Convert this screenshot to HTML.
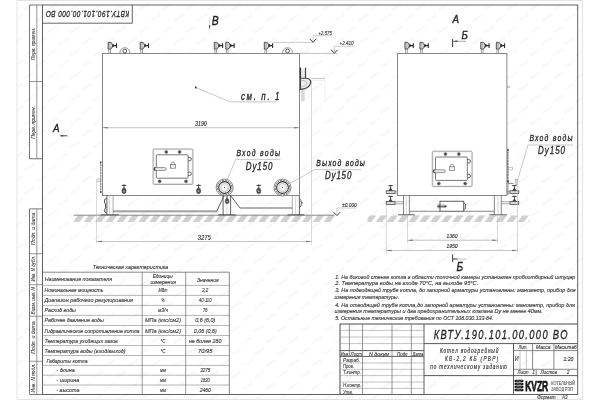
<!DOCTYPE html>
<html lang="ru"><head><meta charset="utf-8"><title>КВТУ.190.101.00.000 ВО</title>
<style>html,body{margin:0;padding:0;background:#fff;}body{width:600px;height:400px;overflow:hidden;font-family:"Liberation Sans",sans-serif;}svg{display:block;}</style></head>
<body>
<svg width="600" height="400" viewBox="0 0 600 400" font-family="'Liberation Sans', sans-serif">
<defs>
<pattern id="wm" width="23" height="23" patternUnits="userSpaceOnUse"><g stroke="#f8f8f8" stroke-width="2.6" stroke-dasharray="2.4 0.5"><line x1="1.5" y1="9.5" x2="11.5" y2="3"/><line x1="13" y1="21" x2="23" y2="14.5"/></g></pattern>
<pattern id="hatch" width="6.5" height="6" patternUnits="userSpaceOnUse"><path d="M-1.5 6 L2.7 0 L5.7 0 L1.5 6 Z M5 6 L9.2 0 L12.2 0 L8 6 Z" fill="#bcbcbc"/></pattern>
<filter id="soft" x="0" y="0" width="100%" height="100%" filterUnits="userSpaceOnUse"><feGaussianBlur stdDeviation="0.32"/></filter>
</defs>
<rect x="0" y="0" width="600" height="400" fill="#ffffff"/>
<g filter="url(#soft)">
<rect x="0" y="0" width="600" height="400" fill="#ffffff"/>
<rect x="17" y="0" width="566" height="400" fill="url(#wm)"/>
<rect x="17" y="0.5" width="565.5" height="399.0" rx="0" fill="none" stroke="#dcdcdc" stroke-width="0.8"/>
<rect x="42.5" y="5" width="535.2" height="389.5" rx="0" fill="none" stroke="#505050" stroke-width="0.9"/>
<path d="M42.5 5 H29.5 V158.75 H42.5" fill="none" stroke="#555" stroke-width="0.8" />
<line x1="36.8" y1="5" x2="36.8" y2="158.75" stroke="#6a6a6a" stroke-width="0.7" />
<line x1="29.5" y1="81.5" x2="42.5" y2="81.5" stroke="#6a6a6a" stroke-width="0.7" />
<path d="M42.5 208.9 H29.5 V394.5 H42.5" fill="none" stroke="#555" stroke-width="0.8" />
<line x1="36.8" y1="208.9" x2="36.8" y2="394.5" stroke="#6a6a6a" stroke-width="0.7" />
<line x1="29.5" y1="253.75" x2="42.5" y2="253.75" stroke="#6a6a6a" stroke-width="0.7" />
<line x1="29.5" y1="284.7" x2="42.5" y2="284.7" stroke="#6a6a6a" stroke-width="0.7" />
<line x1="29.5" y1="316.25" x2="42.5" y2="316.25" stroke="#6a6a6a" stroke-width="0.7" />
<line x1="29.5" y1="361.25" x2="42.5" y2="361.25" stroke="#6a6a6a" stroke-width="0.7" />
<text transform="translate(35.0 44) rotate(-90)" font-size="5.4" font-style="italic" text-anchor="middle" fill="#444" stroke="#444" stroke-width="0.08" textLength="32.5" lengthAdjust="spacingAndGlyphs">Перв. примен.</text>
<text transform="translate(35.0 122.5) rotate(-90)" font-size="5.4" font-style="italic" text-anchor="middle" fill="#444" stroke="#444" stroke-width="0.08" textLength="32.5" lengthAdjust="spacingAndGlyphs">Перв. примен.</text>
<text transform="translate(35.0 228.75) rotate(-90)" font-size="5.4" font-style="italic" text-anchor="middle" fill="#444" stroke="#444" stroke-width="0.08" textLength="32.5" lengthAdjust="spacingAndGlyphs">Подп. и дата</text>
<text transform="translate(35.0 268.75) rotate(-90)" font-size="5.4" font-style="italic" text-anchor="middle" fill="#444" stroke="#444" stroke-width="0.08" textLength="25.5" lengthAdjust="spacingAndGlyphs">Инв. N дубл.</text>
<text transform="translate(35.0 300.75) rotate(-90)" font-size="5.4" font-style="italic" text-anchor="middle" fill="#444" stroke="#444" stroke-width="0.08" textLength="27.5" lengthAdjust="spacingAndGlyphs">Взам. инв. N</text>
<text transform="translate(35.0 337.5) rotate(-90)" font-size="5.4" font-style="italic" text-anchor="middle" fill="#444" stroke="#444" stroke-width="0.08" textLength="32.5" lengthAdjust="spacingAndGlyphs">Подп. и дата</text>
<text transform="translate(35.0 378) rotate(-90)" font-size="5.4" font-style="italic" text-anchor="middle" fill="#444" stroke="#444" stroke-width="0.08" textLength="28.75" lengthAdjust="spacingAndGlyphs">Инв. N подл.</text>
<path d="M132.3 5 V23.2 H42.5" fill="none" stroke="#555" stroke-width="0.9" />
<text transform="translate(129.3 10.8) rotate(180) scale(0.68 1)" font-size="9.6" font-style="italic" font-weight="normal" text-anchor="start" fill="#2a2a2a" textLength="122.79" lengthAdjust="spacing"  stroke="#2a2a2a" stroke-width="0.32">КВТУ.190.101.00.000 ВО</text>
<clipPath id="gc1"><rect x="73.75" y="215.3" width="260.65" height="6.8"/></clipPath>
<g clip-path="url(#gc1)" fill="#d0d0d0">
<path d="M51.1 222 L57.7 222 L62.7 215.3 L56.1 215.3 Z"/>
<path d="M62.0 222 L68.6 222 L73.6 215.3 L67.0 215.3 Z"/>
<path d="M72.9 222 L79.5 222 L84.5 215.3 L77.9 215.3 Z"/>
<path d="M83.8 222 L90.4 222 L95.4 215.3 L88.8 215.3 Z"/>
<path d="M94.7 222 L101.3 222 L106.3 215.3 L99.7 215.3 Z"/>
<path d="M105.6 222 L112.2 222 L117.2 215.3 L110.6 215.3 Z"/>
<path d="M116.5 222 L123.1 222 L128.1 215.3 L121.5 215.3 Z"/>
<path d="M127.4 222 L134.0 222 L139.0 215.3 L132.4 215.3 Z"/>
<path d="M138.3 222 L144.9 222 L149.9 215.3 L143.3 215.3 Z"/>
<path d="M149.2 222 L155.8 222 L160.8 215.3 L154.2 215.3 Z"/>
<path d="M160.1 222 L166.7 222 L171.7 215.3 L165.1 215.3 Z"/>
<path d="M171.0 222 L177.6 222 L182.6 215.3 L176.0 215.3 Z"/>
<path d="M181.9 222 L188.5 222 L193.5 215.3 L186.9 215.3 Z"/>
<path d="M192.8 222 L199.4 222 L204.4 215.3 L197.8 215.3 Z"/>
<path d="M203.7 222 L210.3 222 L215.3 215.3 L208.7 215.3 Z"/>
<path d="M214.6 222 L221.2 222 L226.2 215.3 L219.6 215.3 Z"/>
<path d="M225.5 222 L232.1 222 L237.1 215.3 L230.5 215.3 Z"/>
<path d="M236.4 222 L243.0 222 L248.0 215.3 L241.4 215.3 Z"/>
<path d="M247.3 222 L253.9 222 L258.9 215.3 L252.3 215.3 Z"/>
<path d="M258.2 222 L264.8 222 L269.8 215.3 L263.2 215.3 Z"/>
<path d="M269.1 222 L275.7 222 L280.7 215.3 L274.1 215.3 Z"/>
<path d="M280.0 222 L286.6 222 L291.6 215.3 L285.0 215.3 Z"/>
<path d="M290.9 222 L297.5 222 L302.5 215.3 L295.9 215.3 Z"/>
<path d="M301.8 222 L308.4 222 L313.4 215.3 L306.8 215.3 Z"/>
<path d="M312.7 222 L319.3 222 L324.3 215.3 L317.7 215.3 Z"/>
<path d="M323.6 222 L330.2 222 L335.2 215.3 L328.6 215.3 Z"/>
<path d="M334.5 222 L341.1 222 L346.1 215.3 L339.5 215.3 Z"/>
</g>
<line x1="73.75" y1="215.2" x2="334.4" y2="215.2" stroke="#6a6a6a" stroke-width="0.8" />
<rect x="102.5" y="53.4" width="196.9" height="142.1" rx="0" fill="#ffffff" stroke="#6a6a6a" stroke-width="0.8"/>
<line x1="108.8" y1="49.0" x2="108.8" y2="53.4" stroke="#7a7a7a" stroke-width="0.7" />
<line x1="110.5" y1="49.0" x2="110.5" y2="53.4" stroke="#7a7a7a" stroke-width="0.7" />
<path d="M108.2 42.3 H110.2 Q112.5 42.6 112.5 45.6 Q112.5 48.7 110.2 49 H108.2 Z" fill="#ececec" stroke="#2e2e2e" stroke-width="0.85" />
<line x1="109.3" y1="43.0" x2="109.3" y2="48.4" stroke="#8a8a8a" stroke-width="0.5" />
<line x1="110.3" y1="43.0" x2="110.3" y2="48.4" stroke="#8a8a8a" stroke-width="0.5" />
<line x1="112.5" y1="45.6" x2="116.5" y2="45.6" stroke="#2e2e2e" stroke-width="1.3" />
<path d="M112.60000000000001 43.7 L115.2 45.6 L112.60000000000001 47.5 Z" fill="#2e2e2e" stroke="none" stroke-width="0" />
<line x1="116.5" y1="43.2" x2="116.5" y2="48.1" stroke="#2e2e2e" stroke-width="1.1" />
<line x1="140.79999999999998" y1="49.0" x2="140.79999999999998" y2="53.4" stroke="#7a7a7a" stroke-width="0.7" />
<line x1="142.5" y1="49.0" x2="142.5" y2="53.4" stroke="#7a7a7a" stroke-width="0.7" />
<path d="M140.2 42.3 H142.2 Q144.5 42.6 144.5 45.6 Q144.5 48.7 142.2 49 H140.2 Z" fill="#ececec" stroke="#2e2e2e" stroke-width="0.85" />
<line x1="141.29999999999998" y1="43.0" x2="141.29999999999998" y2="48.4" stroke="#8a8a8a" stroke-width="0.5" />
<line x1="142.29999999999998" y1="43.0" x2="142.29999999999998" y2="48.4" stroke="#8a8a8a" stroke-width="0.5" />
<line x1="144.5" y1="45.6" x2="148.5" y2="45.6" stroke="#2e2e2e" stroke-width="1.3" />
<path d="M144.6 43.7 L147.2 45.6 L144.6 47.5 Z" fill="#2e2e2e" stroke="none" stroke-width="0" />
<line x1="148.5" y1="43.2" x2="148.5" y2="48.1" stroke="#2e2e2e" stroke-width="1.1" />
<line x1="214.9" y1="49.0" x2="214.9" y2="53.4" stroke="#7a7a7a" stroke-width="0.7" />
<line x1="216.60000000000002" y1="49.0" x2="216.60000000000002" y2="53.4" stroke="#7a7a7a" stroke-width="0.7" />
<path d="M214.3 42.3 H216.3 Q218.60000000000002 42.6 218.60000000000002 45.6 Q218.60000000000002 48.7 216.3 49 H214.3 Z" fill="#ececec" stroke="#2e2e2e" stroke-width="0.85" />
<line x1="215.4" y1="43.0" x2="215.4" y2="48.4" stroke="#8a8a8a" stroke-width="0.5" />
<line x1="216.4" y1="43.0" x2="216.4" y2="48.4" stroke="#8a8a8a" stroke-width="0.5" />
<line x1="218.60000000000002" y1="45.6" x2="222.60000000000002" y2="45.6" stroke="#2e2e2e" stroke-width="1.3" />
<path d="M218.70000000000002 43.7 L221.3 45.6 L218.70000000000002 47.5 Z" fill="#2e2e2e" stroke="none" stroke-width="0" />
<line x1="222.60000000000002" y1="43.2" x2="222.60000000000002" y2="48.1" stroke="#2e2e2e" stroke-width="1.1" />
<line x1="226.4" y1="49.0" x2="226.4" y2="53.4" stroke="#7a7a7a" stroke-width="0.7" />
<line x1="228.10000000000002" y1="49.0" x2="228.10000000000002" y2="53.4" stroke="#7a7a7a" stroke-width="0.7" />
<path d="M225.8 42.3 H227.8 Q230.10000000000002 42.6 230.10000000000002 45.6 Q230.10000000000002 48.7 227.8 49 H225.8 Z" fill="#ececec" stroke="#2e2e2e" stroke-width="0.85" />
<line x1="226.9" y1="43.0" x2="226.9" y2="48.4" stroke="#8a8a8a" stroke-width="0.5" />
<line x1="227.9" y1="43.0" x2="227.9" y2="48.4" stroke="#8a8a8a" stroke-width="0.5" />
<line x1="230.10000000000002" y1="45.6" x2="234.10000000000002" y2="45.6" stroke="#2e2e2e" stroke-width="1.3" />
<path d="M230.20000000000002 43.7 L232.8 45.6 L230.20000000000002 47.5 Z" fill="#2e2e2e" stroke="none" stroke-width="0" />
<line x1="234.10000000000002" y1="43.2" x2="234.10000000000002" y2="48.1" stroke="#2e2e2e" stroke-width="1.1" />
<line x1="264.90000000000003" y1="49.0" x2="264.90000000000003" y2="53.4" stroke="#7a7a7a" stroke-width="0.7" />
<line x1="266.6" y1="49.0" x2="266.6" y2="53.4" stroke="#7a7a7a" stroke-width="0.7" />
<path d="M264.3 42.3 H266.3 Q268.6 42.6 268.6 45.6 Q268.6 48.7 266.3 49 H264.3 Z" fill="#ececec" stroke="#2e2e2e" stroke-width="0.85" />
<line x1="265.40000000000003" y1="43.0" x2="265.40000000000003" y2="48.4" stroke="#8a8a8a" stroke-width="0.5" />
<line x1="266.40000000000003" y1="43.0" x2="266.40000000000003" y2="48.4" stroke="#8a8a8a" stroke-width="0.5" />
<line x1="268.6" y1="45.6" x2="272.6" y2="45.6" stroke="#2e2e2e" stroke-width="1.3" />
<path d="M268.7 43.7 L271.3 45.6 L268.7 47.5 Z" fill="#2e2e2e" stroke="none" stroke-width="0" />
<line x1="272.6" y1="43.2" x2="272.6" y2="48.1" stroke="#2e2e2e" stroke-width="1.1" />
<path d="M119.89999999999999 53.4 V52.6 A4.9 4.9 0 0 1 129.7 52.6 V53.4" fill="none" stroke="#6a6a6a" stroke-width="0.7" />
<circle cx="124.8" cy="51.0" r="1.9" fill="none" stroke="#3a3a3a" stroke-width="0.8" />
<path d="M282.70000000000005 53.4 V52.6 A4.9 4.9 0 0 1 292.5 52.6 V53.4" fill="none" stroke="#6a6a6a" stroke-width="0.7" />
<circle cx="287.6" cy="51.0" r="1.9" fill="none" stroke="#3a3a3a" stroke-width="0.8" />
<line x1="273" y1="42.4" x2="313" y2="42.4" stroke="#aaaaaa" stroke-width="0.6" />
<line x1="299.4" y1="53.4" x2="337.5" y2="53.4" stroke="#9a9a9a" stroke-width="0.6" />
<path d="M309.7 38.800000000000004 L313 42.2 L316.3 38.800000000000004" fill="none" stroke="#2e2e2e" stroke-width="0.95" />
<path d="M313 42.2 V35.7 H332.5" fill="none" stroke="#a8a8a8" stroke-width="0.55" />
<text x="318.2" y="34.5" font-size="4.6" font-style="italic" font-weight="normal" text-anchor="start" fill="#3e3e3e" textLength="13.8" lengthAdjust="spacingAndGlyphs"  stroke="#3e3e3e" stroke-width="0.14">+2.575</text>
<path d="M331.09999999999997 49.800000000000004 L334.4 53.2 L337.7 49.800000000000004" fill="none" stroke="#2e2e2e" stroke-width="0.95" />
<path d="M334.4 53.2 V46.3 H354.5" fill="none" stroke="#a8a8a8" stroke-width="0.55" />
<text x="339.5" y="45.1" font-size="4.6" font-style="italic" font-weight="normal" text-anchor="start" fill="#3e3e3e" textLength="14" lengthAdjust="spacingAndGlyphs"  stroke="#3e3e3e" stroke-width="0.14">+2.410</text>
<path d="M333.59999999999997 212.2 L336.9 215.6 L340.2 212.2" fill="none" stroke="#2e2e2e" stroke-width="0.95" />
<path d="M336.9 215.6 V208.0 H356.5" fill="none" stroke="#a8a8a8" stroke-width="0.55" />
<text x="342.0" y="207.0" font-size="4.6" font-style="italic" font-weight="normal" text-anchor="start" fill="#3e3e3e" textLength="14.8" lengthAdjust="spacingAndGlyphs"  stroke="#3e3e3e" stroke-width="0.14">±0.000</text>
<line x1="209.6" y1="16.8" x2="209.6" y2="29" stroke="#c4c4c4" stroke-width="0.6" />
<path d="M209.6 30 L208.8 25.2 L210.4 25.2 Z" fill="#444" stroke="none" stroke-width="0" />
<text transform="translate(211.8 25.1) scale(0.85 1)" font-size="12.2" font-style="italic" font-weight="normal" text-anchor="start" fill="#222"  stroke="#222" stroke-width="0.35">В</text>
<text transform="translate(53.0 132.4) scale(0.85 1)" font-size="11.5" font-style="italic" font-weight="normal" text-anchor="start" fill="#222"  stroke="#222" stroke-width="0.35">А</text>
<line x1="60.5" y1="135.8" x2="67.5" y2="135.8" stroke="#3a3a3a" stroke-width="0.9" />
<path d="M59.8 135.8 L62.8 134.9 L62.8 136.70000000000002 Z" fill="#3a3a3a" stroke="none"/>
<circle cx="195.9" cy="87.6" r="1.0" fill="#2a2a2a" stroke="none" stroke-width="0" />
<path d="M195.9 87.6 L230.2 101.9 H276.3" fill="none" stroke="#a0a0a0" stroke-width="0.6" />
<text transform="translate(241.0 100.0) scale(0.78 1)" font-size="10.2" font-style="italic" font-weight="normal" text-anchor="start" fill="#262626" textLength="49.36" lengthAdjust="spacing"  stroke="#262626" stroke-width="0.3">см. п. 1</text>
<line x1="102.5" y1="127.7" x2="299.4" y2="127.7" stroke="#9a9a9a" stroke-width="0.6" />
<path d="M102.7 127.7 L107.7 126.95 L107.7 128.45 Z" fill="#6a6a6a" stroke="none"/>
<path d="M299.2 127.7 L294.2 126.95 L294.2 128.45 Z" fill="#6a6a6a" stroke="none"/>
<text x="195.0" y="125.7" font-size="6.4" font-style="italic" font-weight="normal" text-anchor="start" fill="#2a2a2a" textLength="11.8" lengthAdjust="spacingAndGlyphs"  stroke="#2a2a2a" stroke-width="0.14">3190</text>
<rect x="153.1" y="149.0" width="39.8" height="35.4" rx="1.2" fill="none" stroke="#868686" stroke-width="0.8"/>
<rect x="153.8" y="149.7" width="38.4" height="34.0" rx="0.8" fill="none" stroke="#bdbdbd" stroke-width="0.4"/>
<rect x="156.3" y="154.8" width="31.8" height="23.4" rx="0.8" fill="none" stroke="#6a6a6a" stroke-width="0.9"/>
<circle cx="166.25" cy="151.9" r="1.5" fill="#444" stroke="#777" stroke-width="0.6" />
<circle cx="179.6" cy="151.9" r="1.5" fill="#444" stroke="#777" stroke-width="0.6" />
<circle cx="159.6" cy="181.3" r="1.5" fill="#444" stroke="#777" stroke-width="0.6" />
<circle cx="186.0" cy="181.3" r="1.5" fill="#444" stroke="#777" stroke-width="0.6" />
<path d="M188.1 157.4 H189.6 A1.7 1.7 0 0 1 189.6 160.8 H188.1" fill="none" stroke="#3a3a3a" stroke-width="0.8" />
<path d="M188.1 172.05 H189.6 A1.7 1.7 0 0 1 189.6 175.45 H188.1" fill="none" stroke="#3a3a3a" stroke-width="0.8" />
<rect x="170.4" y="164.6" width="5.0" height="3.6" rx="0" fill="#f4f4f4" stroke="#6a6a6a" stroke-width="0.7"/>
<path d="M171.3 164.6 V163.6 A1.6 1.6 0 0 1 174.5 163.6 V164.6" fill="none" stroke="#6a6a6a" stroke-width="0.7" />
<rect x="154.2" y="167.6" width="12.0" height="2.8" rx="1.4" fill="#ededed" stroke="#6a6a6a" stroke-width="0.7"/>
<path d="M155.6 167.6 A1.4 1.4 0 0 0 155.6 170.4" fill="none" stroke="#3a3a3a" stroke-width="1.1" />
<line x1="100.8" y1="161.2" x2="100.8" y2="193.2" stroke="#5a5a5a" stroke-width="0.9" stroke-dasharray="2.2 0.5"/>
<circle cx="100.7" cy="162.5" r="0.8" fill="#333" stroke="none" stroke-width="0" />
<circle cx="100.7" cy="192.0" r="0.8" fill="#333" stroke="none" stroke-width="0" />
<rect x="96.9" y="179.0" width="3.7" height="2.25" rx="0" fill="none" stroke="#9a9a9a" stroke-width="0.6"/>
<circle cx="224.6" cy="187.5" r="8.5" fill="#ffffff" stroke="#555" stroke-width="0.7" />
<circle cx="224.6" cy="187.5" r="7.25" fill="none" stroke="#707070" stroke-width="1.0" stroke-dasharray="2.0 0.85"/>
<circle cx="224.6" cy="187.5" r="5.9" fill="none" stroke="#333" stroke-width="1.1" />
<circle cx="224.6" cy="187.5" r="4.0" fill="none" stroke="#aaaaaa" stroke-width="0.7" />
<circle cx="224.6" cy="187.5" r="2.9" fill="none" stroke="#d0d0d0" stroke-width="0.5" />
<circle cx="224.6" cy="187.5" r="0.5" fill="#3a3a3a" stroke="none" stroke-width="0" />
<circle cx="282.5" cy="187.5" r="8.5" fill="#ffffff" stroke="#555" stroke-width="0.7" />
<circle cx="282.5" cy="187.5" r="7.25" fill="none" stroke="#707070" stroke-width="1.0" stroke-dasharray="2.0 0.85"/>
<circle cx="282.5" cy="187.5" r="5.9" fill="none" stroke="#333" stroke-width="1.1" />
<circle cx="282.5" cy="187.5" r="4.0" fill="none" stroke="#aaaaaa" stroke-width="0.7" />
<circle cx="282.5" cy="187.5" r="2.9" fill="none" stroke="#d0d0d0" stroke-width="0.5" />
<circle cx="282.5" cy="187.5" r="0.5" fill="#3a3a3a" stroke="none" stroke-width="0" />
<line x1="121.8" y1="185.4" x2="126.2" y2="185.4" stroke="#3a3a3a" stroke-width="1.0" />
<line x1="124.0" y1="184.4" x2="124.0" y2="188.4" stroke="#3a3a3a" stroke-width="0.9" />
<ellipse cx="124.0" cy="190.8" rx="2.1" ry="2.9" fill="#555" stroke="#333" stroke-width="0.5"/>
<circle cx="124.0" cy="191.20000000000002" r="0.8" fill="#bbb" stroke="none" stroke-width="0" />
<line x1="196.4" y1="185.4" x2="200.79999999999998" y2="185.4" stroke="#3a3a3a" stroke-width="1.0" />
<line x1="198.6" y1="184.4" x2="198.6" y2="188.4" stroke="#3a3a3a" stroke-width="0.9" />
<ellipse cx="198.6" cy="190.8" rx="2.1" ry="2.9" fill="#555" stroke="#333" stroke-width="0.5"/>
<circle cx="198.6" cy="191.20000000000002" r="0.8" fill="#bbb" stroke="none" stroke-width="0" />
<line x1="256.55" y1="185.4" x2="260.95" y2="185.4" stroke="#3a3a3a" stroke-width="1.0" />
<line x1="258.75" y1="184.4" x2="258.75" y2="188.4" stroke="#3a3a3a" stroke-width="0.9" />
<ellipse cx="258.75" cy="190.8" rx="2.1" ry="2.9" fill="#555" stroke="#333" stroke-width="0.5"/>
<circle cx="258.75" cy="191.20000000000002" r="0.8" fill="#bbb" stroke="none" stroke-width="0" />
<line x1="106.9" y1="195.5" x2="106.9" y2="215" stroke="#3a3a3a" stroke-width="0.8" />
<line x1="109.4" y1="195.5" x2="109.4" y2="215" stroke="#bdbdbd" stroke-width="0.6" />
<line x1="113.1" y1="195.5" x2="113.1" y2="215" stroke="#9a9a9a" stroke-width="0.8" />
<line x1="100.6" y1="214.8" x2="118.75" y2="214.8" stroke="#3a3a3a" stroke-width="0.8" />
<line x1="223.1" y1="195.5" x2="223.1" y2="215" stroke="#3a3a3a" stroke-width="0.8" />
<line x1="226.9" y1="195.5" x2="226.9" y2="215" stroke="#bdbdbd" stroke-width="0.6" />
<line x1="230.6" y1="195.5" x2="230.6" y2="215" stroke="#3a3a3a" stroke-width="0.8" />
<line x1="218.0" y1="214.8" x2="235.6" y2="214.8" stroke="#3a3a3a" stroke-width="0.8" />
<line x1="292.25" y1="195.5" x2="292.25" y2="215" stroke="#9a9a9a" stroke-width="0.8" />
<line x1="295.6" y1="195.5" x2="295.6" y2="215" stroke="#bdbdbd" stroke-width="0.6" />
<line x1="299.4" y1="195.5" x2="299.4" y2="215" stroke="#3a3a3a" stroke-width="0.8" />
<line x1="287.5" y1="214.8" x2="304.4" y2="214.8" stroke="#3a3a3a" stroke-width="0.8" />
<path d="M106.6 198.5 L104.6 199.5 V203 L105.6 204 V208 L104.8 209 V212 L106.6 213" fill="none" stroke="#3a3a3a" stroke-width="0.9" />
<path d="M299.6 198.8 L301 200.5 V202 L302.6 203 L301 204 V206 L299.6 207.5" fill="none" stroke="#3a3a3a" stroke-width="0.8" />
<path d="M113.1 211.1 H216.9 L224 195.6" fill="none" stroke="#3a3a3a" stroke-width="0.8" />
<line x1="113.1" y1="212.6" x2="216.5" y2="212.6" stroke="#bdbdbd" stroke-width="0.5" />
<path d="M230.6 195.6 L240 208 H292.25" fill="none" stroke="#3a3a3a" stroke-width="0.8" />
<line x1="227.1" y1="195.6" x2="227.1" y2="199" stroke="#3a3a3a" stroke-width="0.9" />
<ellipse cx="227.1" cy="201.2" rx="1.9" ry="2.6" fill="#555" stroke="#333" stroke-width="0.5"/>
<circle cx="227.1" cy="201.6" r="0.7" fill="#bbb" stroke="none" stroke-width="0" />
<line x1="96.6" y1="181.3" x2="96.6" y2="243.5" stroke="#bdbdbd" stroke-width="0.6" />
<line x1="311.5" y1="80" x2="311.5" y2="244.5" stroke="#bdbdbd" stroke-width="0.6" />
<line x1="96.6" y1="241.5" x2="311.5" y2="241.5" stroke="#9a9a9a" stroke-width="0.6" />
<path d="M96.8 241.5 L101.8 240.75 L101.8 242.25 Z" fill="#6a6a6a" stroke="none"/>
<path d="M311.3 241.5 L306.3 240.75 L306.3 242.25 Z" fill="#6a6a6a" stroke="none"/>
<text x="197.8" y="239.7" font-size="6.5" font-style="italic" font-weight="normal" text-anchor="start" fill="#2a2a2a" textLength="12.8" lengthAdjust="spacingAndGlyphs"  stroke="#2a2a2a" stroke-width="0.14">3275</text>
<rect x="301.2" y="88.5" width="3.2" height="12.5" rx="0" fill="#dadada" stroke="#d4d4d4" stroke-width="0.4"/>
<line x1="311.5" y1="78.4" x2="325" y2="78.4" stroke="#9a9a9a" stroke-width="0.6" />
<line x1="311.5" y1="80.2" x2="325" y2="80.2" stroke="#d8d8d8" stroke-width="0.5" />
<line x1="325" y1="78.4" x2="325" y2="98" stroke="#e2e2e2" stroke-width="0.5" />
<path d="M300.4 78.2 H306 Q310.9 78.6 310.7 82.6 Q309.6 88.6 300.4 89.4 Z" fill="#efefef" stroke="#3a3a3a" stroke-width="1.1" />
<path d="M300.6 80.6 H304.2 Q307.2 81 307.0 83.2 Q306.2 86.4 300.6 87.0" fill="none" stroke="#9a9a9a" stroke-width="0.6" />
<line x1="300.4" y1="67.6" x2="300.4" y2="78" stroke="#333" stroke-width="1.2" />
<line x1="305.6" y1="67.6" x2="305.6" y2="78" stroke="#333" stroke-width="1.0" />
<line x1="302.0" y1="68.6" x2="302.0" y2="77.5" stroke="#9a9a9a" stroke-width="0.5" />
<line x1="304.2" y1="68.6" x2="304.2" y2="77.5" stroke="#9a9a9a" stroke-width="0.5" />
<text transform="translate(236.5 155.6) scale(0.78 1)" font-size="8.8" font-style="italic" font-weight="normal" text-anchor="start" fill="#262626" textLength="55.77" lengthAdjust="spacing"  stroke="#262626" stroke-width="0.3">Вход  воды</text>
<path d="M280.6 159.4 H235.6 L227.6 178.8" fill="none" stroke="#a6a6a6" stroke-width="0.6" />
<text transform="translate(245.8 170.0) scale(0.78 1)" font-size="10.2" font-style="italic" font-weight="normal" text-anchor="start" fill="#262626" textLength="34.1" lengthAdjust="spacing"  stroke="#262626" stroke-width="0.3">Dy150</text>
<text transform="translate(316.3 165.6) scale(0.78 1)" font-size="8.8" font-style="italic" font-weight="normal" text-anchor="start" fill="#262626" textLength="62.31" lengthAdjust="spacing"  stroke="#262626" stroke-width="0.3">Выход  воды</text>
<path d="M361.25 169.6 H314.4 L290.4 183.4" fill="none" stroke="#a6a6a6" stroke-width="0.6" />
<text transform="translate(325.0 179.4) scale(0.78 1)" font-size="10.2" font-style="italic" font-weight="normal" text-anchor="start" fill="#262626" textLength="33.72" lengthAdjust="spacing"  stroke="#262626" stroke-width="0.3">Dy150</text>
<clipPath id="gc2"><rect x="367.5" y="215.3" width="162.5" height="6.8"/></clipPath>
<g clip-path="url(#gc2)" fill="#d0d0d0">
<path d="M343.0 222 L349.6 222 L354.6 215.3 L348.0 215.3 Z"/>
<path d="M353.9 222 L360.5 222 L365.5 215.3 L358.9 215.3 Z"/>
<path d="M364.8 222 L371.4 222 L376.4 215.3 L369.8 215.3 Z"/>
<path d="M375.7 222 L382.3 222 L387.3 215.3 L380.7 215.3 Z"/>
<path d="M386.6 222 L393.2 222 L398.2 215.3 L391.6 215.3 Z"/>
<path d="M397.5 222 L404.1 222 L409.1 215.3 L402.5 215.3 Z"/>
<path d="M408.4 222 L415.0 222 L420.0 215.3 L413.4 215.3 Z"/>
<path d="M419.3 222 L425.9 222 L430.9 215.3 L424.3 215.3 Z"/>
<path d="M430.2 222 L436.8 222 L441.8 215.3 L435.2 215.3 Z"/>
<path d="M441.1 222 L447.7 222 L452.7 215.3 L446.1 215.3 Z"/>
<path d="M452.0 222 L458.6 222 L463.6 215.3 L457.0 215.3 Z"/>
<path d="M462.9 222 L469.5 222 L474.5 215.3 L467.9 215.3 Z"/>
<path d="M473.8 222 L480.4 222 L485.4 215.3 L478.8 215.3 Z"/>
<path d="M484.7 222 L491.3 222 L496.3 215.3 L489.7 215.3 Z"/>
<path d="M495.6 222 L502.2 222 L507.2 215.3 L500.6 215.3 Z"/>
<path d="M506.5 222 L513.1 222 L518.1 215.3 L511.5 215.3 Z"/>
<path d="M517.4 222 L524.0 222 L529.0 215.3 L522.4 215.3 Z"/>
<path d="M528.3 222 L534.9 222 L539.9 215.3 L533.3 215.3 Z"/>
</g>
<rect x="397.5" y="53.4" width="109.4" height="142.0" rx="0" fill="#ffffff" stroke="#6a6a6a" stroke-width="0.8"/>
<line x1="405.6" y1="49.0" x2="405.6" y2="53.4" stroke="#7a7a7a" stroke-width="0.7" />
<line x1="407.3" y1="49.0" x2="407.3" y2="53.4" stroke="#7a7a7a" stroke-width="0.7" />
<path d="M405.0 42.3 H407.0 Q409.3 42.6 409.3 45.6 Q409.3 48.7 407.0 49 H405.0 Z" fill="#ececec" stroke="#2e2e2e" stroke-width="0.85" />
<line x1="406.1" y1="43.0" x2="406.1" y2="48.4" stroke="#8a8a8a" stroke-width="0.5" />
<line x1="407.1" y1="43.0" x2="407.1" y2="48.4" stroke="#8a8a8a" stroke-width="0.5" />
<line x1="409.3" y1="45.6" x2="413.3" y2="45.6" stroke="#2e2e2e" stroke-width="1.3" />
<path d="M409.4 43.7 L412.0 45.6 L409.4 47.5 Z" fill="#2e2e2e" stroke="none" stroke-width="0" />
<line x1="413.3" y1="43.2" x2="413.3" y2="48.1" stroke="#2e2e2e" stroke-width="1.1" />
<line x1="420.6" y1="49.0" x2="420.6" y2="53.4" stroke="#7a7a7a" stroke-width="0.7" />
<line x1="422.3" y1="49.0" x2="422.3" y2="53.4" stroke="#7a7a7a" stroke-width="0.7" />
<path d="M420.0 42.3 H422.0 Q424.3 42.6 424.3 45.6 Q424.3 48.7 422.0 49 H420.0 Z" fill="#ececec" stroke="#2e2e2e" stroke-width="0.85" />
<line x1="421.1" y1="43.0" x2="421.1" y2="48.4" stroke="#8a8a8a" stroke-width="0.5" />
<line x1="422.1" y1="43.0" x2="422.1" y2="48.4" stroke="#8a8a8a" stroke-width="0.5" />
<line x1="424.3" y1="45.6" x2="428.3" y2="45.6" stroke="#2e2e2e" stroke-width="1.3" />
<path d="M424.4 43.7 L427.0 45.6 L424.4 47.5 Z" fill="#2e2e2e" stroke="none" stroke-width="0" />
<line x1="428.3" y1="43.2" x2="428.3" y2="48.1" stroke="#2e2e2e" stroke-width="1.1" />
<line x1="481.40000000000003" y1="49.0" x2="481.40000000000003" y2="53.4" stroke="#7a7a7a" stroke-width="0.7" />
<line x1="483.1" y1="49.0" x2="483.1" y2="53.4" stroke="#7a7a7a" stroke-width="0.7" />
<path d="M480.8 42.3 H482.8 Q485.1 42.6 485.1 45.6 Q485.1 48.7 482.8 49 H480.8 Z" fill="#ececec" stroke="#2e2e2e" stroke-width="0.85" />
<line x1="481.90000000000003" y1="43.0" x2="481.90000000000003" y2="48.4" stroke="#8a8a8a" stroke-width="0.5" />
<line x1="482.90000000000003" y1="43.0" x2="482.90000000000003" y2="48.4" stroke="#8a8a8a" stroke-width="0.5" />
<line x1="485.1" y1="45.6" x2="489.1" y2="45.6" stroke="#2e2e2e" stroke-width="1.3" />
<path d="M485.2 43.7 L487.8 45.6 L485.2 47.5 Z" fill="#2e2e2e" stroke="none" stroke-width="0" />
<line x1="489.1" y1="43.2" x2="489.1" y2="48.1" stroke="#2e2e2e" stroke-width="1.1" />
<line x1="496.90000000000003" y1="49.0" x2="496.90000000000003" y2="53.4" stroke="#7a7a7a" stroke-width="0.7" />
<line x1="498.6" y1="49.0" x2="498.6" y2="53.4" stroke="#7a7a7a" stroke-width="0.7" />
<path d="M496.3 42.3 H498.3 Q500.6 42.6 500.6 45.6 Q500.6 48.7 498.3 49 H496.3 Z" fill="#ececec" stroke="#2e2e2e" stroke-width="0.85" />
<line x1="497.40000000000003" y1="43.0" x2="497.40000000000003" y2="48.4" stroke="#8a8a8a" stroke-width="0.5" />
<line x1="498.40000000000003" y1="43.0" x2="498.40000000000003" y2="48.4" stroke="#8a8a8a" stroke-width="0.5" />
<line x1="500.6" y1="45.6" x2="504.6" y2="45.6" stroke="#2e2e2e" stroke-width="1.3" />
<path d="M500.7 43.7 L503.3 45.6 L500.7 47.5 Z" fill="#2e2e2e" stroke="none" stroke-width="0" />
<line x1="504.6" y1="43.2" x2="504.6" y2="48.1" stroke="#2e2e2e" stroke-width="1.1" />
<text transform="translate(452.6 23.0) scale(0.85 1)" font-size="11.5" font-style="italic" font-weight="normal" text-anchor="start" fill="#222"  stroke="#222" stroke-width="0.35">А</text>
<text transform="translate(461.6 38.8) scale(0.85 1)" font-size="11.5" font-style="italic" font-weight="normal" text-anchor="start" fill="#222"  stroke="#222" stroke-width="0.35">Б</text>
<line x1="452.6" y1="39.0" x2="452.6" y2="47.0" stroke="#3a3a3a" stroke-width="1.0" />
<line x1="452.3" y1="41.3" x2="466" y2="41.3" stroke="#6a6a6a" stroke-width="0.6" />
<path d="M452.9 41.3 L457.4 40.5 L457.4 42.099999999999994 Z" fill="#3a3a3a" stroke="none"/>
<rect x="507.2" y="86.4" width="2.4" height="1.4" rx="0" fill="none" stroke="#9a9a9a" stroke-width="0.5"/>
<rect x="432.3" y="151.2" width="39.8" height="35.4" rx="1.2" fill="none" stroke="#868686" stroke-width="0.8"/>
<rect x="433.0" y="151.9" width="38.4" height="34.0" rx="0.8" fill="none" stroke="#bdbdbd" stroke-width="0.4"/>
<rect x="435.5" y="157.0" width="31.8" height="23.4" rx="0.8" fill="none" stroke="#6a6a6a" stroke-width="0.9"/>
<circle cx="445.45" cy="154.1" r="1.5" fill="#444" stroke="#777" stroke-width="0.6" />
<circle cx="458.8" cy="154.1" r="1.5" fill="#444" stroke="#777" stroke-width="0.6" />
<circle cx="438.8" cy="183.5" r="1.5" fill="#444" stroke="#777" stroke-width="0.6" />
<circle cx="465.2" cy="183.5" r="1.5" fill="#444" stroke="#777" stroke-width="0.6" />
<path d="M467.3 159.6 H468.8 A1.7 1.7 0 0 1 468.8 163.0 H467.3" fill="none" stroke="#3a3a3a" stroke-width="0.8" />
<path d="M467.3 174.25 H468.8 A1.7 1.7 0 0 1 468.8 177.65 H467.3" fill="none" stroke="#3a3a3a" stroke-width="0.8" />
<rect x="449.6" y="166.8" width="5.0" height="3.6" rx="0" fill="#f4f4f4" stroke="#6a6a6a" stroke-width="0.7"/>
<path d="M450.5 166.8 V165.8 A1.6 1.6 0 0 1 453.7 165.8 V166.8" fill="none" stroke="#6a6a6a" stroke-width="0.7" />
<rect x="433.4" y="169.8" width="12.0" height="2.8" rx="1.4" fill="#ededed" stroke="#6a6a6a" stroke-width="0.7"/>
<path d="M434.8 169.8 A1.4 1.4 0 0 0 434.8 172.6" fill="none" stroke="#3a3a3a" stroke-width="1.1" />
<line x1="388.40000000000003" y1="185.6" x2="392.8" y2="185.6" stroke="#3a3a3a" stroke-width="1.0" />
<line x1="390.6" y1="185.0" x2="390.6" y2="189.0" stroke="#3a3a3a" stroke-width="0.9" />
<path d="M388.20000000000005 191.0 L390.6 187.6 L393.0 191.0 Z" fill="#3a3a3a" stroke="none" stroke-width="0" />
<rect x="386.20000000000005" y="190.8" width="8.8" height="2.8" rx="0" fill="#d9d9d9" stroke="#3a3a3a" stroke-width="0.7"/>
<line x1="388.40000000000003" y1="196.4" x2="392.8" y2="196.4" stroke="#3a3a3a" stroke-width="1.0" />
<line x1="390.6" y1="195.8" x2="390.6" y2="199.8" stroke="#3a3a3a" stroke-width="0.9" />
<path d="M388.20000000000005 201.8 L390.6 198.4 L393.0 201.8 Z" fill="#3a3a3a" stroke="none" stroke-width="0" />
<rect x="386.20000000000005" y="201.60000000000002" width="8.8" height="2.8" rx="0" fill="#d9d9d9" stroke="#3a3a3a" stroke-width="0.7"/>
<line x1="395" y1="191.2" x2="397.5" y2="191.2" stroke="#6a6a6a" stroke-width="0.6" />
<line x1="395" y1="193.2" x2="397.5" y2="193.2" stroke="#6a6a6a" stroke-width="0.6" />
<line x1="395" y1="201.8" x2="403.5" y2="201.8" stroke="#6a6a6a" stroke-width="0.6" />
<line x1="395" y1="203.8" x2="403.5" y2="203.8" stroke="#6a6a6a" stroke-width="0.6" />
<line x1="512.1999999999999" y1="185.6" x2="516.6" y2="185.6" stroke="#3a3a3a" stroke-width="1.0" />
<line x1="514.4" y1="185.0" x2="514.4" y2="189.0" stroke="#3a3a3a" stroke-width="0.9" />
<path d="M512.0 191.0 L514.4 187.6 L516.8 191.0 Z" fill="#3a3a3a" stroke="none" stroke-width="0" />
<rect x="510.0" y="190.8" width="8.8" height="2.8" rx="0" fill="#d9d9d9" stroke="#3a3a3a" stroke-width="0.7"/>
<line x1="512.1999999999999" y1="196.4" x2="516.6" y2="196.4" stroke="#3a3a3a" stroke-width="1.0" />
<line x1="514.4" y1="195.8" x2="514.4" y2="199.8" stroke="#3a3a3a" stroke-width="0.9" />
<path d="M512.0 201.8 L514.4 198.4 L516.8 201.8 Z" fill="#3a3a3a" stroke="none" stroke-width="0" />
<rect x="510.0" y="201.60000000000002" width="8.8" height="2.8" rx="0" fill="#d9d9d9" stroke="#3a3a3a" stroke-width="0.7"/>
<line x1="501.25" y1="201.8" x2="510" y2="201.8" stroke="#6a6a6a" stroke-width="0.6" />
<line x1="501.25" y1="203.8" x2="510" y2="203.8" stroke="#6a6a6a" stroke-width="0.6" />
<line x1="506.9" y1="191.2" x2="510" y2="191.2" stroke="#6a6a6a" stroke-width="0.6" />
<line x1="506.9" y1="193.2" x2="510" y2="193.2" stroke="#6a6a6a" stroke-width="0.6" />
<line x1="507.9" y1="148.75" x2="507.9" y2="183" stroke="#4a4a4a" stroke-width="1.0" stroke-dasharray="2.4 0.4"/>
<circle cx="508.0" cy="150.0" r="0.8" fill="#333" stroke="none" stroke-width="0" />
<circle cx="508.0" cy="181.5" r="0.9" fill="#333" stroke="none" stroke-width="0" />
<line x1="507.9" y1="183" x2="507.9" y2="195" stroke="#6a6a6a" stroke-width="0.7" />
<line x1="508" y1="183.6" x2="513.5" y2="183.6" stroke="#555" stroke-width="0.7" />
<rect x="508.4" y="167.5" width="4.0" height="2.5" rx="0" fill="none" stroke="#9a9a9a" stroke-width="0.5"/>
<rect x="515.3" y="179.5" width="1.9" height="5.1" rx="0" fill="#e6e6e6" stroke="#9a9a9a" stroke-width="0.5"/>
<line x1="403.5" y1="195.5" x2="403.5" y2="215" stroke="#6a6a6a" stroke-width="0.8" />
<line x1="406.25" y1="195.5" x2="406.25" y2="215" stroke="#bdbdbd" stroke-width="0.6" />
<line x1="409.4" y1="195.5" x2="409.4" y2="215" stroke="#6a6a6a" stroke-width="0.8" />
<line x1="398.0" y1="214.8" x2="415.0" y2="214.8" stroke="#3a3a3a" stroke-width="0.8" />
<line x1="494.4" y1="195.5" x2="494.4" y2="215" stroke="#6a6a6a" stroke-width="0.8" />
<line x1="498.0" y1="195.5" x2="498.0" y2="215" stroke="#bdbdbd" stroke-width="0.6" />
<line x1="501.25" y1="195.5" x2="501.25" y2="215" stroke="#6a6a6a" stroke-width="0.8" />
<line x1="489.4" y1="214.8" x2="507.0" y2="214.8" stroke="#3a3a3a" stroke-width="0.8" />
<line x1="409.4" y1="211.25" x2="440" y2="211.25" stroke="#6a6a6a" stroke-width="0.8" />
<line x1="463.75" y1="211.25" x2="494.4" y2="211.25" stroke="#6a6a6a" stroke-width="0.8" />
<rect x="440" y="201.25" width="23.75" height="10.0" rx="0" fill="none" stroke="#4a4a4a" stroke-width="0.9"/>
<path d="M463.9 203 L465.4 204 V208.6 L463.9 209.6" fill="none" stroke="#3a3a3a" stroke-width="0.8" />
<line x1="437.5" y1="206.3" x2="446.5" y2="206.3" stroke="#3a3a3a" stroke-width="0.9" />
<rect x="439" y="205.0" width="6.6" height="2.6" rx="0" fill="none" stroke="#6a6a6a" stroke-width="0.5"/>
<path d="M446.8 206.3 L444.6 205.2 V207.4 Z" fill="#3a3a3a" stroke="none" stroke-width="0" />
<ellipse cx="438.6" cy="206.3" rx="0.9" ry="1.7" fill="none" stroke="#444" stroke-width="0.6"/>
<line x1="386.25" y1="205" x2="386.25" y2="253.5" stroke="#bdbdbd" stroke-width="0.6" />
<line x1="517.5" y1="180" x2="517.5" y2="253.5" stroke="#bdbdbd" stroke-width="0.6" />
<line x1="407.5" y1="215.5" x2="407.5" y2="243" stroke="#bdbdbd" stroke-width="0.6" />
<line x1="497.5" y1="215.5" x2="497.5" y2="243" stroke="#bdbdbd" stroke-width="0.6" />
<line x1="407.5" y1="240.2" x2="497.5" y2="240.2" stroke="#9a9a9a" stroke-width="0.6" />
<path d="M407.7 240.2 L412.7 239.45 L412.7 240.95 Z" fill="#6a6a6a" stroke="none"/>
<path d="M497.3 240.2 L492.3 239.45 L492.3 240.95 Z" fill="#6a6a6a" stroke="none"/>
<line x1="386.25" y1="250.4" x2="517.5" y2="250.4" stroke="#9a9a9a" stroke-width="0.6" />
<path d="M386.5 250.4 L391.5 249.65 L391.5 251.15 Z" fill="#6a6a6a" stroke="none"/>
<path d="M517.3 250.4 L512.3 249.65 L512.3 251.15 Z" fill="#6a6a6a" stroke="none"/>
<text x="446.5" y="237.9" font-size="6.2" font-style="italic" font-weight="normal" text-anchor="start" fill="#2a2a2a" textLength="11" lengthAdjust="spacingAndGlyphs"  stroke="#2a2a2a" stroke-width="0.14">1360</text>
<text x="446.5" y="248.1" font-size="6.2" font-style="italic" font-weight="normal" text-anchor="start" fill="#2a2a2a" textLength="11" lengthAdjust="spacingAndGlyphs"  stroke="#2a2a2a" stroke-width="0.14">1950</text>
<line x1="452.6" y1="254.4" x2="452.6" y2="261.9" stroke="#3a3a3a" stroke-width="1.0" />
<line x1="452.6" y1="259.0" x2="466" y2="259.0" stroke="#9a9a9a" stroke-width="0.6" />
<line x1="452.6" y1="259.0" x2="457.5" y2="259.0" stroke="#3a3a3a" stroke-width="0.9" />
<text transform="translate(456.6 271.0) scale(0.85 1)" font-size="12" font-style="italic" font-weight="normal" text-anchor="start" fill="#222"  stroke="#222" stroke-width="0.35">Б</text>
<text transform="translate(529.4 140.6) scale(0.78 1)" font-size="8.8" font-style="italic" font-weight="normal" text-anchor="start" fill="#262626" textLength="55.26" lengthAdjust="spacing"  stroke="#262626" stroke-width="0.3">Вход  воды</text>
<path d="M573 145 H528 L517 182" fill="none" stroke="#a6a6a6" stroke-width="0.6" />
<text transform="translate(538.0 154.4) scale(0.78 1)" font-size="10.2" font-style="italic" font-weight="normal" text-anchor="start" fill="#262626" textLength="34.62" lengthAdjust="spacing"  stroke="#262626" stroke-width="0.3">Dy150</text>
<text x="335.3" y="278.8" font-size="5.6" font-style="italic" font-weight="normal" text-anchor="start" fill="#3c3c3c" textLength="240.0" lengthAdjust="spacingAndGlyphs"  stroke="#3c3c3c" stroke-width="0.14">1. На боковой стенке котла в области топочной камеры установлен пробоотборный штуцер</text>
<text x="335.3" y="285.0" font-size="5.6" font-style="italic" font-weight="normal" text-anchor="start" fill="#3c3c3c" textLength="143" lengthAdjust="spacingAndGlyphs"  stroke="#3c3c3c" stroke-width="0.14">2. Температура воды на входе 70°С, на выходе 95°С.</text>
<text x="335.3" y="292.4" font-size="5.6" font-style="italic" font-weight="normal" text-anchor="start" fill="#3c3c3c" textLength="240.3" lengthAdjust="spacingAndGlyphs"  stroke="#3c3c3c" stroke-width="0.14">3. На подводящей трубе котла, до запорной арматуры установлены: манометр, прибор для</text>
<text x="334.4" y="299.0" font-size="5.6" font-style="italic" font-weight="normal" text-anchor="start" fill="#3c3c3c" textLength="64.7" lengthAdjust="spacingAndGlyphs"  stroke="#3c3c3c" stroke-width="0.14">измерения температуры.</text>
<text x="335.3" y="307.0" font-size="5.6" font-style="italic" font-weight="normal" text-anchor="start" fill="#3c3c3c" textLength="239.6" lengthAdjust="spacingAndGlyphs"  stroke="#3c3c3c" stroke-width="0.14">4. На отводящей трубе котла,до запорной арматуры установлены: манометр, прибор для</text>
<text x="334.4" y="313.0" font-size="5.6" font-style="italic" font-weight="normal" text-anchor="start" fill="#3c3c3c" textLength="208.5" lengthAdjust="spacingAndGlyphs"  stroke="#3c3c3c" stroke-width="0.14">измерения температуры и два предохранительных клапана Dy не менее 40мм.</text>
<text x="335.3" y="319.8" font-size="5.6" font-style="italic" font-weight="normal" text-anchor="start" fill="#3c3c3c" textLength="158" lengthAdjust="spacingAndGlyphs"  stroke="#3c3c3c" stroke-width="0.14">5. Остальные технические требования по ОСТ 108.030.133-84.</text>
<text x="92.8" y="269.3" font-size="5.4" font-style="italic" font-weight="normal" text-anchor="start" fill="#3e3e3e" textLength="75.5" lengthAdjust="spacingAndGlyphs"  stroke="#3e3e3e" stroke-width="0.14">Техническая характеристика</text>
<line x1="42.5" y1="272.2" x2="229.3" y2="272.2" stroke="#6a6a6a" stroke-width="0.8" />
<line x1="42.5" y1="285.4" x2="229.3" y2="285.4" stroke="#9a9a9a" stroke-width="0.7" />
<line x1="42.5" y1="295.4" x2="229.3" y2="295.4" stroke="#9a9a9a" stroke-width="0.7" />
<line x1="42.5" y1="305.4" x2="229.3" y2="305.4" stroke="#9a9a9a" stroke-width="0.7" />
<line x1="42.5" y1="315.4" x2="229.3" y2="315.4" stroke="#9a9a9a" stroke-width="0.7" />
<line x1="42.5" y1="325.5" x2="229.3" y2="325.5" stroke="#9a9a9a" stroke-width="0.7" />
<line x1="42.5" y1="335.5" x2="229.3" y2="335.5" stroke="#9a9a9a" stroke-width="0.7" />
<line x1="42.5" y1="345.5" x2="229.3" y2="345.5" stroke="#9a9a9a" stroke-width="0.7" />
<line x1="42.5" y1="355.5" x2="229.3" y2="355.5" stroke="#9a9a9a" stroke-width="0.7" />
<line x1="42.5" y1="365.4" x2="229.3" y2="365.4" stroke="#9a9a9a" stroke-width="0.7" />
<line x1="42.5" y1="375.2" x2="229.3" y2="375.2" stroke="#9a9a9a" stroke-width="0.7" />
<line x1="42.5" y1="385.0" x2="229.3" y2="385.0" stroke="#9a9a9a" stroke-width="0.7" />
<line x1="142.2" y1="272.2" x2="142.2" y2="394.5" stroke="#6a6a6a" stroke-width="0.7" />
<line x1="185.7" y1="272.2" x2="185.7" y2="394.5" stroke="#6a6a6a" stroke-width="0.7" />
<line x1="229.3" y1="272.2" x2="229.3" y2="394.5" stroke="#6a6a6a" stroke-width="0.8" />
<text x="44.7" y="281.2" font-size="5.6" font-style="italic" font-weight="normal" text-anchor="start" fill="#3e3e3e" textLength="67.3" lengthAdjust="spacingAndGlyphs"  stroke="#3e3e3e" stroke-width="0.14">Наименование показателя</text>
<text x="162.7" y="278.2" font-size="5.6" font-style="italic" font-weight="normal" text-anchor="middle" fill="#3e3e3e" textLength="20" lengthAdjust="spacingAndGlyphs"  stroke="#3e3e3e" stroke-width="0.14">Единицы</text>
<text x="163.2" y="283.9" font-size="5.6" font-style="italic" font-weight="normal" text-anchor="middle" fill="#3e3e3e" textLength="25.6" lengthAdjust="spacingAndGlyphs"  stroke="#3e3e3e" stroke-width="0.14">измерения</text>
<text x="207.8" y="281.6" font-size="5.6" font-style="italic" font-weight="normal" text-anchor="middle" fill="#3e3e3e" textLength="21.7" lengthAdjust="spacingAndGlyphs"  stroke="#3e3e3e" stroke-width="0.14">Значения</text>
<text x="44.5" y="292.4" font-size="5.6" font-style="italic" font-weight="normal" text-anchor="start" fill="#3e3e3e" textLength="59" lengthAdjust="spacingAndGlyphs"  stroke="#3e3e3e" stroke-width="0.14">Номинальная мощность</text>
<text x="163.0" y="292.4" font-size="5.6" font-style="italic" font-weight="normal" text-anchor="middle" fill="#3e3e3e" textLength="8.8" lengthAdjust="spacingAndGlyphs"  stroke="#3e3e3e" stroke-width="0.14">МВт</text>
<text x="205.2" y="292.4" font-size="5.6" font-style="italic" font-weight="normal" text-anchor="middle" fill="#3e3e3e" textLength="6.4" lengthAdjust="spacingAndGlyphs"  stroke="#3e3e3e" stroke-width="0.14">2,2</text>
<text x="44.5" y="302.4" font-size="5.6" font-style="italic" font-weight="normal" text-anchor="start" fill="#3e3e3e" textLength="88.5" lengthAdjust="spacingAndGlyphs"  stroke="#3e3e3e" stroke-width="0.14">Диапазон рабочего регулирования</text>
<text x="163.0" y="302.4" font-size="5.6" font-style="italic" font-weight="normal" text-anchor="middle" fill="#3e3e3e" textLength="3" lengthAdjust="spacingAndGlyphs"  stroke="#3e3e3e" stroke-width="0.14">%</text>
<text x="205.2" y="302.4" font-size="5.6" font-style="italic" font-weight="normal" text-anchor="middle" fill="#3e3e3e" textLength="12.5" lengthAdjust="spacingAndGlyphs"  stroke="#3e3e3e" stroke-width="0.14">40-110</text>
<text x="44.5" y="312.4" font-size="5.6" font-style="italic" font-weight="normal" text-anchor="start" fill="#3e3e3e" textLength="31.5" lengthAdjust="spacingAndGlyphs"  stroke="#3e3e3e" stroke-width="0.14">Расход воды</text>
<text x="163.0" y="312.4" font-size="5.6" font-style="italic" font-weight="normal" text-anchor="middle" fill="#3e3e3e" textLength="10" lengthAdjust="spacingAndGlyphs"  stroke="#3e3e3e" stroke-width="0.14">м3/ч</text>
<text x="205.2" y="312.4" font-size="5.6" font-style="italic" font-weight="normal" text-anchor="middle" fill="#3e3e3e" textLength="4.4" lengthAdjust="spacingAndGlyphs"  stroke="#3e3e3e" stroke-width="0.14">76</text>
<text x="44.5" y="322.4" font-size="5.6" font-style="italic" font-weight="normal" text-anchor="start" fill="#3e3e3e" textLength="59.3" lengthAdjust="spacingAndGlyphs"  stroke="#3e3e3e" stroke-width="0.14">Рабочее давление воды</text>
<text x="163.0" y="322.4" font-size="5.6" font-style="italic" font-weight="normal" text-anchor="middle" fill="#3e3e3e" textLength="36" lengthAdjust="spacingAndGlyphs"  stroke="#3e3e3e" stroke-width="0.14">МПа (кгс/см2)</text>
<text x="205.2" y="322.4" font-size="5.6" font-style="italic" font-weight="normal" text-anchor="middle" fill="#3e3e3e" textLength="20" lengthAdjust="spacingAndGlyphs"  stroke="#3e3e3e" stroke-width="0.14">0,6 (6,0)</text>
<text x="44.5" y="332.5" font-size="5.6" font-style="italic" font-weight="normal" text-anchor="start" fill="#3e3e3e" textLength="95" lengthAdjust="spacingAndGlyphs"  stroke="#3e3e3e" stroke-width="0.14">Гидравлическое сопротивление котла</text>
<text x="163.0" y="332.5" font-size="5.6" font-style="italic" font-weight="normal" text-anchor="middle" fill="#3e3e3e" textLength="36" lengthAdjust="spacingAndGlyphs"  stroke="#3e3e3e" stroke-width="0.14">МПа (кгс/см2)</text>
<text x="205.2" y="332.5" font-size="5.6" font-style="italic" font-weight="normal" text-anchor="middle" fill="#3e3e3e" textLength="23" lengthAdjust="spacingAndGlyphs"  stroke="#3e3e3e" stroke-width="0.14">0,06 (0,6)</text>
<text x="44.5" y="342.5" font-size="5.6" font-style="italic" font-weight="normal" text-anchor="start" fill="#3e3e3e" textLength="73.3" lengthAdjust="spacingAndGlyphs"  stroke="#3e3e3e" stroke-width="0.14">Температура уходящих газов</text>
<text x="163.0" y="342.5" font-size="5.6" font-style="italic" font-weight="normal" text-anchor="middle" fill="#3e3e3e" textLength="5" lengthAdjust="spacingAndGlyphs"  stroke="#3e3e3e" stroke-width="0.14">°С</text>
<text x="205.2" y="342.5" font-size="5.6" font-style="italic" font-weight="normal" text-anchor="middle" fill="#3e3e3e" textLength="32.6" lengthAdjust="spacingAndGlyphs"  stroke="#3e3e3e" stroke-width="0.14">не более 280</text>
<text x="44.5" y="352.5" font-size="5.6" font-style="italic" font-weight="normal" text-anchor="start" fill="#3e3e3e" textLength="81" lengthAdjust="spacingAndGlyphs"  stroke="#3e3e3e" stroke-width="0.14">Температура воды (вход/выход)</text>
<text x="163.0" y="352.5" font-size="5.6" font-style="italic" font-weight="normal" text-anchor="middle" fill="#3e3e3e" textLength="5" lengthAdjust="spacingAndGlyphs"  stroke="#3e3e3e" stroke-width="0.14">°С</text>
<text x="205.2" y="352.5" font-size="5.6" font-style="italic" font-weight="normal" text-anchor="middle" fill="#3e3e3e" textLength="14.2" lengthAdjust="spacingAndGlyphs"  stroke="#3e3e3e" stroke-width="0.14">70/95</text>
<text x="46.5" y="362.5" font-size="5.6" font-style="italic" font-weight="normal" text-anchor="start" fill="#3e3e3e" textLength="41" lengthAdjust="spacingAndGlyphs"  stroke="#3e3e3e" stroke-width="0.14">Габариты котла</text>
<text x="56.3" y="372.4" font-size="5.6" font-style="italic" font-weight="normal" text-anchor="start" fill="#3e3e3e" textLength="18.5" lengthAdjust="spacingAndGlyphs"  stroke="#3e3e3e" stroke-width="0.14">- длина</text>
<text x="163.0" y="372.4" font-size="5.6" font-style="italic" font-weight="normal" text-anchor="middle" fill="#3e3e3e" textLength="5.8" lengthAdjust="spacingAndGlyphs"  stroke="#3e3e3e" stroke-width="0.14">мм</text>
<text x="205.2" y="372.4" font-size="5.6" font-style="italic" font-weight="normal" text-anchor="middle" fill="#3e3e3e" textLength="10" lengthAdjust="spacingAndGlyphs"  stroke="#3e3e3e" stroke-width="0.14">3275</text>
<text x="56.3" y="382.2" font-size="5.6" font-style="italic" font-weight="normal" text-anchor="start" fill="#3e3e3e" textLength="23" lengthAdjust="spacingAndGlyphs"  stroke="#3e3e3e" stroke-width="0.14">- ширина</text>
<text x="163.0" y="382.2" font-size="5.6" font-style="italic" font-weight="normal" text-anchor="middle" fill="#3e3e3e" textLength="5.8" lengthAdjust="spacingAndGlyphs"  stroke="#3e3e3e" stroke-width="0.14">мм</text>
<text x="205.2" y="382.2" font-size="5.6" font-style="italic" font-weight="normal" text-anchor="middle" fill="#3e3e3e" textLength="8.8" lengthAdjust="spacingAndGlyphs"  stroke="#3e3e3e" stroke-width="0.14">1830</text>
<text x="56.3" y="392.0" font-size="5.6" font-style="italic" font-weight="normal" text-anchor="start" fill="#3e3e3e" textLength="23.2" lengthAdjust="spacingAndGlyphs"  stroke="#3e3e3e" stroke-width="0.14">- высота</text>
<text x="163.0" y="392.0" font-size="5.6" font-style="italic" font-weight="normal" text-anchor="middle" fill="#3e3e3e" textLength="5.8" lengthAdjust="spacingAndGlyphs"  stroke="#3e3e3e" stroke-width="0.14">мм</text>
<text x="205.2" y="392.0" font-size="5.6" font-style="italic" font-weight="normal" text-anchor="middle" fill="#3e3e3e" textLength="11" lengthAdjust="spacingAndGlyphs"  stroke="#3e3e3e" stroke-width="0.14">2460</text>
<line x1="340.0" y1="324.0" x2="577.7" y2="324.0" stroke="#4a4a4a" stroke-width="1.0" />
<line x1="340.0" y1="324.0" x2="340.0" y2="394.5" stroke="#4a4a4a" stroke-width="1.0" />
<line x1="340.0" y1="330.4" x2="424.0" y2="330.4" stroke="#9a9a9a" stroke-width="0.6" />
<line x1="340.0" y1="337.0" x2="424.0" y2="337.0" stroke="#9a9a9a" stroke-width="0.6" />
<line x1="340.0" y1="343.6" x2="424.0" y2="343.6" stroke="#9a9a9a" stroke-width="0.6" />
<line x1="340.0" y1="350.6" x2="424.0" y2="350.6" stroke="#4a4a4a" stroke-width="0.9" />
<line x1="340.0" y1="356.4" x2="424.0" y2="356.4" stroke="#4a4a4a" stroke-width="0.9" />
<line x1="340.0" y1="363.0" x2="424.0" y2="363.0" stroke="#9a9a9a" stroke-width="0.6" />
<line x1="340.0" y1="369.3" x2="424.0" y2="369.3" stroke="#9a9a9a" stroke-width="0.6" />
<line x1="340.0" y1="375.6" x2="424.0" y2="375.6" stroke="#9a9a9a" stroke-width="0.6" />
<line x1="340.0" y1="382.0" x2="424.0" y2="382.0" stroke="#9a9a9a" stroke-width="0.6" />
<line x1="340.0" y1="388.4" x2="424.0" y2="388.4" stroke="#9a9a9a" stroke-width="0.6" />
<line x1="349.4" y1="324.0" x2="349.4" y2="356.4" stroke="#6a6a6a" stroke-width="0.7" />
<line x1="362.5" y1="324.0" x2="362.5" y2="394.5" stroke="#6a6a6a" stroke-width="0.7" />
<line x1="392.0" y1="324.0" x2="392.0" y2="394.5" stroke="#6a6a6a" stroke-width="0.7" />
<line x1="411.3" y1="324.0" x2="411.3" y2="394.5" stroke="#6a6a6a" stroke-width="0.7" />
<line x1="424.0" y1="324.0" x2="424.0" y2="394.5" stroke="#4a4a4a" stroke-width="0.9" />
<line x1="424.0" y1="343.6" x2="577.7" y2="343.6" stroke="#4a4a4a" stroke-width="0.9" />
<line x1="424.0" y1="375.6" x2="577.7" y2="375.6" stroke="#4a4a4a" stroke-width="0.9" />
<line x1="513.5" y1="343.6" x2="513.5" y2="394.5" stroke="#4a4a4a" stroke-width="0.9" />
<line x1="513.5" y1="350.6" x2="577.7" y2="350.6" stroke="#6a6a6a" stroke-width="0.8" />
<line x1="513.5" y1="369.3" x2="577.7" y2="369.3" stroke="#6a6a6a" stroke-width="0.8" />
<line x1="532.6" y1="343.6" x2="532.6" y2="369.3" stroke="#6a6a6a" stroke-width="0.8" />
<line x1="553.9" y1="343.6" x2="553.9" y2="369.3" stroke="#6a6a6a" stroke-width="0.8" />
<line x1="520.0" y1="350.6" x2="520.0" y2="369.3" stroke="#9a9a9a" stroke-width="0.6" />
<line x1="526.3" y1="350.6" x2="526.3" y2="369.3" stroke="#9a9a9a" stroke-width="0.6" />
<line x1="536.2" y1="369.3" x2="536.2" y2="375.6" stroke="#6a6a6a" stroke-width="0.8" />
<text transform="translate(433.7 338.8) scale(0.74 1)" font-size="12.6" font-style="italic" font-weight="normal" text-anchor="start" fill="#262626" textLength="180.81" lengthAdjust="spacing"  stroke="#262626" stroke-width="0.32">КВТУ.190.101.00.000  ВО</text>
<text transform="translate(440.0 353.0) scale(0.75 1)" font-size="6.3" font-style="italic" font-weight="normal" text-anchor="start" fill="#333" textLength="77.73" lengthAdjust="spacing"  stroke="#333" stroke-width="0.18">Котел  водогрейный</text>
<text transform="translate(445.0 361.3) scale(0.75 1)" font-size="6.3" font-style="italic" font-weight="normal" text-anchor="start" fill="#333" textLength="71.07" lengthAdjust="spacing"  stroke="#333" stroke-width="0.18">КВ-2,2  КБ  (РВР)</text>
<text transform="translate(430.3 369.2) scale(0.75 1)" font-size="6.3" font-style="italic" font-weight="normal" text-anchor="start" fill="#333" textLength="101.87" lengthAdjust="spacing"  stroke="#333" stroke-width="0.18">по  техническому  заданию</text>
<text x="340.8" y="355.5" font-size="5.2" font-style="italic" font-weight="normal" text-anchor="start" fill="#444" textLength="8.4" lengthAdjust="spacingAndGlyphs"  stroke="#444" stroke-width="0.14">Изм.</text>
<text x="350.6" y="355.5" font-size="5.2" font-style="italic" font-weight="normal" text-anchor="start" fill="#444" textLength="11.4" lengthAdjust="spacingAndGlyphs"  stroke="#444" stroke-width="0.14">Лист</text>
<text x="369" y="355.5" font-size="5.2" font-style="italic" font-weight="normal" text-anchor="start" fill="#444" textLength="20" lengthAdjust="spacingAndGlyphs"  stroke="#444" stroke-width="0.14">N докум</text>
<text x="397" y="355.5" font-size="5.2" font-style="italic" font-weight="normal" text-anchor="start" fill="#444" textLength="10.5" lengthAdjust="spacingAndGlyphs"  stroke="#444" stroke-width="0.14">Подп</text>
<text x="412.6" y="355.5" font-size="5.2" font-style="italic" font-weight="normal" text-anchor="start" fill="#444" textLength="10.6" lengthAdjust="spacingAndGlyphs"  stroke="#444" stroke-width="0.14">Дата</text>
<text x="343.0" y="361.7" font-size="5.5" font-style="italic" font-weight="normal" text-anchor="start" fill="#444" textLength="17" lengthAdjust="spacingAndGlyphs"  stroke="#444" stroke-width="0.14">Разраб.</text>
<text x="343.0" y="367.8" font-size="5.5" font-style="italic" font-weight="normal" text-anchor="start" fill="#444" textLength="11" lengthAdjust="spacingAndGlyphs"  stroke="#444" stroke-width="0.14">Пров.</text>
<text x="343.0" y="374.4" font-size="5.5" font-style="italic" font-weight="normal" text-anchor="start" fill="#444" textLength="18" lengthAdjust="spacingAndGlyphs"  stroke="#444" stroke-width="0.14">Т.контр.</text>
<text x="343.0" y="387.4" font-size="5.5" font-style="italic" font-weight="normal" text-anchor="start" fill="#444" textLength="18.5" lengthAdjust="spacingAndGlyphs"  stroke="#444" stroke-width="0.14">Н.контр.</text>
<text x="343.0" y="393.5" font-size="5.5" font-style="italic" font-weight="normal" text-anchor="start" fill="#444" textLength="10" lengthAdjust="spacingAndGlyphs"  stroke="#444" stroke-width="0.14">Утв.</text>
<text x="523.05" y="349.40000000000003" font-size="4.8" font-style="italic" font-weight="normal" text-anchor="middle" fill="#3e3e3e" textLength="9" lengthAdjust="spacingAndGlyphs"  stroke="#3e3e3e" stroke-width="0.14">Лит.</text>
<text x="543.25" y="349.40000000000003" font-size="4.8" font-style="italic" font-weight="normal" text-anchor="middle" fill="#3e3e3e" textLength="14.5" lengthAdjust="spacingAndGlyphs"  stroke="#3e3e3e" stroke-width="0.14">Масса</text>
<text x="565.8" y="349.40000000000003" font-size="4.8" font-style="italic" font-weight="normal" text-anchor="middle" fill="#3e3e3e" textLength="21.5" lengthAdjust="spacingAndGlyphs"  stroke="#3e3e3e" stroke-width="0.14">Масштаб</text>
<text x="514.8" y="360.8" font-size="6.8" font-style="italic" font-weight="normal" text-anchor="start" fill="#333" textLength="3.8" lengthAdjust="spacingAndGlyphs"  stroke="#333" stroke-width="0.14">И</text>
<text x="568.4" y="361.0" font-size="6.0" font-style="italic" font-weight="normal" text-anchor="middle" fill="#2a2a2a" textLength="9.8" lengthAdjust="spacingAndGlyphs"  stroke="#2a2a2a" stroke-width="0.14">1:20</text>
<text x="517.5" y="374.20000000000005" font-size="4.8" font-style="italic" font-weight="normal" text-anchor="start" fill="#3e3e3e" textLength="11" lengthAdjust="spacingAndGlyphs"  stroke="#3e3e3e" stroke-width="0.14">Лист</text>
<text x="532.2" y="374.20000000000005" font-size="4.8" font-style="italic" font-weight="normal" text-anchor="start" fill="#3e3e3e"  stroke="#3e3e3e" stroke-width="0.14">1</text>
<text x="540.5" y="374.20000000000005" font-size="4.8" font-style="italic" font-weight="normal" text-anchor="start" fill="#3e3e3e" textLength="16.5" lengthAdjust="spacingAndGlyphs"  stroke="#3e3e3e" stroke-width="0.14">Листов</text>
<text x="566.8" y="374.20000000000005" font-size="4.8" font-style="italic" font-weight="normal" text-anchor="start" fill="#3e3e3e"  stroke="#3e3e3e" stroke-width="0.14">2</text>
<rect x="514.5" y="379.8" width="9.0" height="2.55" rx="1.25" fill="#161616" stroke="none" stroke-width="0"/>
<path d="M516.4 381.55 Q517.8 380.15 519.0 381.08 T521.6 380.6" fill="none" stroke="#e8e8e8" stroke-width="0.5"/>
<rect x="514.5" y="382.75" width="9.0" height="2.55" rx="1.25" fill="#161616" stroke="none" stroke-width="0"/>
<path d="M516.4 384.5 Q517.8 383.1 519.0 384.03 T521.6 383.55" fill="none" stroke="#e8e8e8" stroke-width="0.5"/>
<rect x="514.5" y="385.7" width="9.0" height="2.55" rx="1.25" fill="#161616" stroke="none" stroke-width="0"/>
<path d="M516.4 387.45 Q517.8 386.05 519.0 386.98 T521.6 386.5" fill="none" stroke="#e8e8e8" stroke-width="0.5"/>
<rect x="514.5" y="388.65000000000003" width="9.0" height="2.55" rx="1.25" fill="#161616" stroke="none" stroke-width="0"/>
<path d="M516.4 390.4 Q517.8 389.0 519.0 389.93 T521.6 389.45" fill="none" stroke="#e8e8e8" stroke-width="0.5"/>
<text x="525.2" y="391.0" font-size="15" font-weight="bold" fill="#161616" stroke="#161616" stroke-width="0.75" stroke-linejoin="round" textLength="23.0" lengthAdjust="spacingAndGlyphs">KVZR</text>
<text x="551.3" y="385.2" font-size="4.7" font-style="normal" font-weight="normal" text-anchor="start" fill="#666" textLength="23.7" lengthAdjust="spacingAndGlyphs"  stroke="#666" stroke-width="0.14">КОТЕЛЬНЫЙ</text>
<text x="551.3" y="390.6" font-size="4.7" font-style="normal" font-weight="normal" text-anchor="start" fill="#666" textLength="21.7" lengthAdjust="spacingAndGlyphs"  stroke="#666" stroke-width="0.14">ЗАВОД РЭП</text>
<text x="537.3" y="398.7" font-size="5.2" font-style="italic" font-weight="normal" text-anchor="start" fill="#444" textLength="18.3" lengthAdjust="spacingAndGlyphs"  stroke="#444" stroke-width="0.14">Формат</text>
<text x="562.0" y="398.7" font-size="5.2" font-style="italic" font-weight="normal" text-anchor="start" fill="#444" textLength="5.4" lengthAdjust="spacingAndGlyphs"  stroke="#444" stroke-width="0.14">А3</text>
</g>
</svg>
</body></html>
